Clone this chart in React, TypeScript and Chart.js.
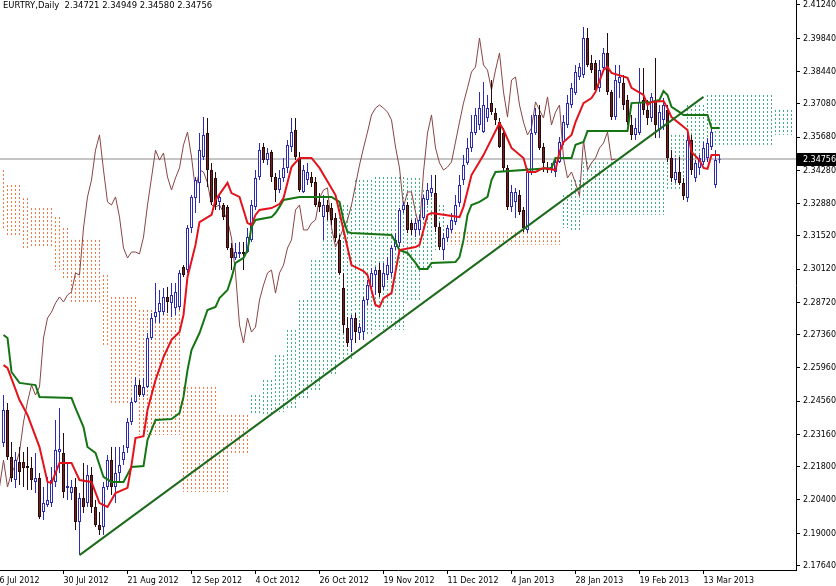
import React, { useEffect, useRef } from "react";
import { Chart, registerables } from "chart.js";

Chart.register(...registerables);

// ---------- data ----------
const title = "EURTRY,Daily  2.34721 2.34949 2.34580 2.34756";
const lastPrice = 2.34756;

const opens = [
  2.2280, 2.2419, 2.2221, 2.2124, 2.2200, 2.2200, 2.2183, 2.2175, 2.2116, 2.2133,
  2.1989, 2.2019, 2.2027, 2.2116, 2.2242, 2.2238, 2.2091, 2.2069, 2.2095, 2.1947,
  2.2048, 2.2027, 2.2145, 2.2011, 2.1935, 2.1926, 2.2095, 2.2208, 2.2095, 2.2154,
  2.2208, 2.2259, 2.2368, 2.2453, 2.2524, 2.2482, 2.2516, 2.2722, 2.2810, 2.2831,
  2.2831, 2.2895, 2.2869, 2.2848, 2.2853, 2.3021, 2.3008, 2.3185, 2.3311, 2.3375,
  2.3484, 2.3585, 2.3429, 2.3396, 2.3295, 2.3282, 2.3274, 2.3101, 2.3059, 2.3076,
  2.3084, 2.3084, 2.3135, 2.3274, 2.3400, 2.3526, 2.3471, 2.3505, 2.3400, 2.3345,
  2.3396, 2.3438, 2.3526, 2.3598, 2.3480, 2.3337, 2.3387, 2.3400, 2.3379, 2.3295,
  2.3231, 2.3282, 2.3269, 2.3227, 2.3135, 2.2933, 2.2764, 2.2714, 2.2806, 2.2743,
  2.2747, 2.2882, 2.2937, 2.2987, 2.3008, 2.2937, 2.2987, 2.2996, 2.3105, 2.3122,
  2.3261, 2.3282, 2.3206, 2.3177, 2.3177, 2.3227, 2.3303, 2.3332, 2.3332, 2.3189,
  2.3092, 2.3143, 2.3177, 2.3210, 2.3290, 2.3387, 2.3459, 2.3522, 2.3585, 2.3619,
  2.3589, 2.3648, 2.3711, 2.3669, 2.3631, 2.3585, 2.3438, 2.3274, 2.3295, 2.3324,
  2.3261, 2.3177, 2.3421, 2.3585, 2.3661, 2.3526, 2.3438, 2.3429, 2.3421, 2.3463,
  2.3547, 2.3619, 2.3703, 2.3753, 2.3821, 2.3829, 2.3985, 2.3880, 2.3880, 2.3775,
  2.3859, 2.3922, 2.3758, 2.3652, 2.3796, 2.3796, 2.3724, 2.3619, 2.3577, 2.3585,
  2.3724, 2.3682, 2.3648, 2.3724, 2.3598, 2.3640, 2.3682, 2.3480, 2.3387, 2.3421,
  2.3375, 2.3311, 2.3556, 2.3396, 2.3438, 2.3463, 2.3480, 2.3526, 2.3366, 2.34721,
];
const highs = [
  2.2482, 2.2448, 2.2284, 2.2242, 2.2263, 2.2242, 2.2263, 2.2221, 2.2238, 2.2154,
  2.2095, 2.2137, 2.2179, 2.2377, 2.2427, 2.2322, 2.2196, 2.2124, 2.2133, 2.2069,
  2.2196, 2.2187, 2.2179, 2.2040, 2.1989, 2.2116, 2.2229, 2.2263, 2.2263, 2.2263,
  2.2272, 2.2385, 2.2469, 2.2558, 2.2545, 2.2554, 2.2743, 2.2827, 2.2954, 2.2924,
  2.2933, 2.2937, 2.2954, 2.2954, 2.3008, 2.3029, 2.3198, 2.3324, 2.3400, 2.3585,
  2.3652, 2.3648, 2.3459, 2.3421, 2.3324, 2.3290, 2.3282, 2.3122, 2.3122, 2.3126,
  2.3126, 2.3185, 2.3303, 2.3429, 2.3543, 2.3543, 2.3522, 2.3513, 2.3417, 2.3429,
  2.3480, 2.3556, 2.3648, 2.3648, 2.3505, 2.3450, 2.3459, 2.3421, 2.3400, 2.3332,
  2.3324, 2.3303, 2.3290, 2.3248, 2.3156, 2.2996, 2.2810, 2.2819, 2.2827, 2.2785,
  2.2895, 2.2966, 2.3017, 2.3021, 2.3038, 2.3038, 2.3063, 2.3114, 2.3164, 2.3269,
  2.3295, 2.3295, 2.3219, 2.3227, 2.3240, 2.3324, 2.3375, 2.3408, 2.3408, 2.3206,
  2.3164, 2.3198, 2.3248, 2.3324, 2.3408, 2.3492, 2.3564, 2.3661, 2.3690, 2.3758,
  2.3800, 2.3745, 2.3808, 2.3690, 2.3648, 2.3606, 2.3450, 2.3366, 2.3354, 2.3345,
  2.3274, 2.3438, 2.3661, 2.3690, 2.3703, 2.3543, 2.3463, 2.3459, 2.3480, 2.3568,
  2.3661, 2.3745, 2.3796, 2.3871, 2.3880, 2.4031, 2.4027, 2.3913, 2.3892, 2.3892,
  2.3943, 2.4006, 2.3766, 2.3871, 2.3871, 2.3829, 2.3745, 2.3661, 2.3648, 2.3859,
  2.3859, 2.3724, 2.3753, 2.3901, 2.3703, 2.3732, 2.3703, 2.3513, 2.3480, 2.3484,
  2.3396, 2.3589, 2.3577, 2.3471, 2.3492, 2.3547, 2.3564, 2.3606, 2.3513, 2.34949,
];
const lows = [
  2.2263, 2.2208, 2.2116, 2.2091, 2.2103, 2.2095, 2.2082, 2.2082, 2.2069, 2.1960,
  2.1956, 2.2011, 2.2011, 2.2095, 2.2154, 2.2048, 2.2040, 2.2040, 2.1914, 2.1808,
  2.1985, 2.2011, 2.1985, 2.1926, 2.1893, 2.1893, 2.2082, 2.2061, 2.2027, 2.2116,
  2.2187, 2.2238, 2.2356, 2.2448, 2.2474, 2.2474, 2.2512, 2.2714, 2.2785, 2.2785,
  2.2819, 2.2827, 2.2810, 2.2819, 2.2840, 2.2979, 2.2996, 2.3164, 2.3248, 2.3290,
  2.3471, 2.3358, 2.3282, 2.3261, 2.3261, 2.3219, 2.3092, 2.3008, 2.3050, 2.3059,
  2.3008, 2.3080, 2.3126, 2.3261, 2.3387, 2.3459, 2.3450, 2.3379, 2.3295, 2.3332,
  2.3379, 2.3417, 2.3505, 2.3471, 2.3337, 2.3332, 2.3366, 2.3358, 2.3274, 2.3252,
  2.3135, 2.3219, 2.3198, 2.3126, 2.2987, 2.2743, 2.2684, 2.2663, 2.2701, 2.2714,
  2.2714, 2.2861, 2.2916, 2.2903, 2.2895, 2.2924, 2.2966, 2.2979, 2.3092, 2.3105,
  2.3248, 2.3164, 2.3156, 2.3147, 2.3156, 2.3219, 2.3282, 2.3316, 2.3168, 2.3092,
  2.3050, 2.3126, 2.3164, 2.3198, 2.3274, 2.3366, 2.3450, 2.3505, 2.3577, 2.3598,
  2.3585, 2.3631, 2.3661, 2.3619, 2.3522, 2.3421, 2.3261, 2.3252, 2.3227, 2.3240,
  2.3168, 2.3164, 2.3408, 2.3577, 2.3513, 2.3421, 2.3417, 2.3417, 2.3400, 2.3459,
  2.3535, 2.3606, 2.3690, 2.3745, 2.3808, 2.3817, 2.3863, 2.3838, 2.3753, 2.3758,
  2.3842, 2.3745, 2.3640, 2.3640, 2.3732, 2.3682, 2.3619, 2.3556, 2.3556, 2.3577,
  2.3661, 2.3619, 2.3631, 2.3564, 2.3564, 2.3598, 2.3463, 2.3379, 2.3375, 2.3366,
  2.3303, 2.3295, 2.3408, 2.3379, 2.3408, 2.3450, 2.3463, 2.3513, 2.3354, 2.34580,
];
const closes = [
  2.2419, 2.2221, 2.2133, 2.2208, 2.2158, 2.2175, 2.2175, 2.2124, 2.2133, 2.1968,
  2.2027, 2.2040, 2.2124, 2.2250, 2.2255, 2.2074, 2.2099, 2.2095, 2.1947, 2.2048,
  2.2011, 2.2145, 2.2011, 2.1935, 2.1914, 2.2095, 2.2208, 2.2095, 2.2154, 2.2187,
  2.2242, 2.2368, 2.2453, 2.2524, 2.2482, 2.2516, 2.2722, 2.2806, 2.2831, 2.2869,
  2.2895, 2.2874, 2.2903, 2.2916, 2.2996, 2.2987, 2.3185, 2.3316, 2.3387, 2.3513,
  2.3577, 2.3429, 2.3295, 2.3282, 2.3316, 2.3231, 2.3101, 2.3059, 2.3084, 2.3084,
  2.3076, 2.3147, 2.3282, 2.3396, 2.3513, 2.3471, 2.3501, 2.3400, 2.3345, 2.3396,
  2.3438, 2.3535, 2.3589, 2.3484, 2.3345, 2.3429, 2.3421, 2.3375, 2.3282, 2.3274,
  2.3282, 2.3252, 2.3219, 2.3143, 2.2996, 2.2777, 2.2701, 2.2806, 2.2747, 2.2768,
  2.2882, 2.2945, 2.2996, 2.3008, 2.2911, 2.2996, 2.3029, 2.3101, 2.3135, 2.3261,
  2.3282, 2.3177, 2.3177, 2.3206, 2.3219, 2.3311, 2.3345, 2.3354, 2.3189, 2.3105,
  2.3143, 2.3185, 2.3219, 2.3282, 2.3366, 2.3450, 2.3522, 2.3589, 2.3661, 2.3690,
  2.3703, 2.3690, 2.3673, 2.3640, 2.3526, 2.3438, 2.3274, 2.3337, 2.3337, 2.3252,
  2.3185, 2.3421, 2.3585, 2.3661, 2.3522, 2.3459, 2.3429, 2.3442, 2.3463, 2.3547,
  2.3631, 2.3711, 2.3775, 2.3842, 2.3863, 2.3985, 2.3871, 2.3850, 2.3766, 2.3850,
  2.3922, 2.3758, 2.3652, 2.3808, 2.3821, 2.3703, 2.3631, 2.3577, 2.3606, 2.3716,
  2.3682, 2.3648, 2.3737, 2.3619, 2.3673, 2.3703, 2.3480, 2.3396, 2.3421, 2.3375,
  2.3320, 2.3556, 2.3429, 2.3459, 2.3480, 2.3522, 2.3543, 2.3589, 2.3471, 2.34756,
];

// Tenkan-sen (bar index, price) vertices
const tenkanIdx = [
  0, 1, 4, 6, 9, 11, 12, 14, 17, 19, 22, 24, 26, 27, 28, 31, 32, 33, 35, 36,
  38, 40, 42, 44, 45, 46, 48, 49, 52, 53, 56, 57, 59, 61, 62, 63, 64, 67, 69, 70,
  72, 74, 77, 79, 83, 85, 87, 90, 91, 93, 94, 95, 97, 99, 103, 104, 106, 107, 114, 115,
  117, 120, 124, 125, 127, 130, 131, 133, 135, 138, 139, 140, 142, 143, 145, 147, 148, 150, 151, 152,
  156, 157, 160, 161, 162, 165, 166, 167, 171, 172, 174, 175, 176, 177, 179,
];
const tenkanVal = [
  2.2608, 2.2596, 2.2461, 2.2398, 2.2263, 2.2116, 2.2112, 2.2196, 2.2196, 2.2124,
  2.2116, 2.2027, 2.2011, 2.2040, 2.2069, 2.2091, 2.2187, 2.2301, 2.2309, 2.2419,
  2.2545, 2.2642, 2.2714, 2.2747, 2.2819, 2.2979, 2.3114, 2.3210, 2.3240, 2.3303,
  2.3375, 2.3332, 2.3316, 2.3206, 2.3198, 2.3240, 2.3261, 2.3269, 2.3286, 2.3311,
  2.3442, 2.3480, 2.3480, 2.3438, 2.3324, 2.3177, 2.3029, 2.3004, 2.2987, 2.2861,
  2.2853, 2.2890, 2.2911, 2.3092, 2.3105, 2.3114, 2.3240, 2.3248, 2.3231, 2.3274,
  2.3408, 2.3492, 2.3627, 2.3598, 2.3522, 2.3480, 2.3421, 2.3421, 2.3438, 2.3429,
  2.3505, 2.3547, 2.3577, 2.3631, 2.3711, 2.3732, 2.3758, 2.3850, 2.3863, 2.3838,
  2.3817, 2.3775, 2.3745, 2.3703, 2.3716, 2.3720, 2.3690, 2.3652, 2.3598, 2.3505,
  2.3471, 2.3438, 2.3434, 2.3492, 2.3492,
];

// Kijun-sen (bar index, price) vertices
const kijunIdx = [
  0, 1, 2, 4, 8, 9, 17, 18, 20, 21, 23, 25, 27, 30, 32, 35, 36, 38, 42, 44,
  45, 46, 47, 49, 51, 53, 54, 56, 57, 58, 60, 61, 62, 63, 67, 68, 69, 70, 74, 82,
  84, 85, 86, 87, 97, 98, 99, 101, 103, 104, 106, 107, 113, 114, 115, 116, 117, 119, 121, 122,
  123, 137, 138, 142, 143, 145, 146, 156, 157, 162, 164, 165, 166, 167, 169, 170, 176, 177, 179,
];
const kijunVal = [
  2.2735, 2.2722, 2.2579, 2.2533, 2.2524, 2.2474, 2.2469, 2.2427, 2.2347, 2.2263,
  2.2238, 2.2137, 2.2116, 2.2116, 2.2179, 2.2183, 2.2293, 2.2377, 2.2381, 2.2406,
  2.2474, 2.2587, 2.2671, 2.2743, 2.2840, 2.2853, 2.2890, 2.2924, 2.2975, 2.3038,
  2.3059, 2.3092, 2.3189, 2.3219, 2.3231, 2.3248, 2.3274, 2.3303, 2.3316, 2.3316,
  2.3295, 2.3219, 2.3168, 2.3164, 2.3156, 2.3126, 2.3092, 2.3080, 2.3038, 2.3013,
  2.3013, 2.3038, 2.3042, 2.3063, 2.3135, 2.3240, 2.3282, 2.3295, 2.3316, 2.3387,
  2.3421, 2.3438, 2.3480, 2.3480, 2.3535, 2.3547, 2.3593, 2.3593, 2.3711, 2.3716,
  2.3724, 2.3762, 2.3745, 2.3695, 2.3673, 2.3661, 2.3661, 2.3606, 2.3606,
];

// Kumo (Senkou span A / B), as runs of bars
const cloudFrom = [0, 1, 5, 7, 13, 15, 17, 25, 27, 34, 45, 54, 57, 62, 65, 68, 71, 74, 77, 80, 84, 88, 93, 101, 105, 108, 111, 140, 142, 145, 166, 171, 176, 193];
const cloudTo = [0, 4, 6, 12, 14, 16, 24, 26, 33, 44, 53, 56, 61, 64, 67, 70, 73, 76, 79, 83, 87, 92, 100, 104, 107, 110, 139, 141, 144, 165, 170, 175, 192, 197];
const spanA = [
  2.3177, 2.3147, 2.3101, 2.3101, 2.3008, 2.2966, 2.2869, 2.2693, 2.2440, 2.2314,
  2.2074, 2.2074, 2.2238, 2.2482, 2.2545, 2.2650, 2.2756, 2.2882, 2.3050, 2.3219,
  2.3282, 2.3387, 2.3400, 2.3396, 2.3345, 2.3282, 2.3114, 2.3324, 2.3387, 2.3463,
  2.3577, 2.3703, 2.3745, 2.3682,
];
const spanB = [
  2.3429, 2.3366, 2.3311, 2.3269, 2.3231, 2.3185, 2.3135, 2.2987, 2.2895, 2.2840,
  2.2516, 2.2398, 2.2398, 2.2398, 2.2398, 2.2410, 2.2427, 2.2461, 2.2503, 2.2566,
  2.2629, 2.2735, 2.2756, 2.2882, 2.3008, 2.3092, 2.3168, 2.3185, 2.3177, 2.3240,
  2.3345, 2.3471, 2.3535, 2.3577,
];

const trendIdx = [19, 175];
const trendVal = [2.1808, 2.3737];

const yTicks = [
  2.4124, 2.3984, 2.3844, 2.3708, 2.3568, 2.3428, 2.3288, 2.3152, 2.3012,
  2.2872, 2.2736, 2.2596, 2.2456, 2.2316, 2.218, 2.204, 2.19, 2.1764,
];
const xTickIdx = [-1, 15, 31, 47, 63, 79, 95, 111, 127, 143, 159, 175];
const xTickLabels = [
  "6 Jul 2012", "30 Jul 2012", "21 Aug 2012", "12 Sep 2012", "4 Oct 2012", "26 Oct 2012",
  "19 Nov 2012", "11 Dec 2012", "4 Jan 2013", "28 Jan 2013", "19 Feb 2013", "13 Mar 2013",
];

const xMin = -0.875;
const xMax = 198.125;
const yMin = 2.17453;
const yMax = 2.4145;

// ---------- styles ----------
const BULL = "#2B2BB5";
const BEAR_FILL = "#6E2222";
const BEAR_LINE = "#2A0A0A";
const TENKAN = "#E3121B";
const KIJUN = "#157515";
const TREND = "#1E6B1E";
const CHIKOU = "#8A4444";
const PRICE_LINE = "#8C8C8C";
const CLOUD_UP = "#3DAE84";
const CLOUD_DOWN = "#F2773F";

// pick a narrow installed family and sizes that fit the MT4-like label widths
function pickFonts() {
  const c = document.createElement("canvas").getContext("2d")!;
  const probe = "2.41240 30 Jul 2012";
  c.font = "11px monospace";
  const a = c.measureText(probe).width;
  let family = "'Liberation Sans', Arial, sans-serif";
  for (const f of ["'Liberation Sans Narrow'", "'DejaVu Sans Condensed'"]) {
    c.font = `11px ${f}, monospace`;
    if (Math.abs(c.measureText(probe).width - a) > 0.5) {
      family = f;
      break;
    }
  }
  c.font = `10px ${family}`;
  const wAxis = c.measureText("2.41240").width;
  const wTitle = c.measureText(title).width;
  const axisSize = Math.min(11, Math.round((33 / wAxis) * 100) / 10);
  const titleSize = Math.min(11, Math.round((209 / wTitle) * 100) / 10);
  return { family, axisSize, titleSize };
}

export default function App() {
  const ref = useRef<HTMLCanvasElement | null>(null);

  useEffect(() => {
    const canvas = ref.current!;
    const fonts = pickFonts();
    const axisFont = `${fonts.axisSize}px ${fonts.family}`;
    const titleFont = `${fonts.titleSize}px ${fonts.family}`;

    const isBull = (i: number) => closes[i] >= opens[i];
    const bodies = closes.map((c, i) => ({ x: i, y: [opens[i], c] }));
    const wicks = closes.map((c, i) => ({ x: i, y: [lows[i], highs[i]] }));

    // cloud columns: vertical dotted strokes between span A and span B, one per bar
    const cloudUp: any[] = [];
    const cloudDown: any[] = [];
    cloudFrom.forEach((f, s) => {
      const hi = Math.max(spanA[s], spanB[s]);
      const lo = Math.min(spanA[s], spanB[s]);
      const target = spanA[s] >= spanB[s] ? cloudUp : cloudDown;
      for (let i = f; i <= cloudTo[s]; i++) {
        target.push({ x: i, y: hi }, { x: i, y: lo }, { x: i, y: null });
      }
    });

    const chikou = closes.map((c, i) => ({ x: i - 26, y: c }));
    const tenkan = tenkanIdx.map((x, k) => ({ x, y: tenkanVal[k] }));
    const kijun = kijunIdx.map((x, k) => ({ x, y: kijunVal[k] }));
    const trend = trendIdx.map((x, k) => ({ x, y: trendVal[k] }));
    const priceLine = [
      { x: xMin, y: lastPrice },
      { x: xMax, y: lastPrice },
    ];

    const overlay = {
      id: "overlay",
      afterDraw(chart: any) {
        const { ctx, chartArea, scales } = chart;
        const y = Math.round(scales.y.getPixelForValue(lastPrice));
        ctx.save();
        ctx.fillStyle = "#000";
        ctx.fillRect(chartArea.right + 1, y - 6, 40, 13);
        ctx.fillStyle = "#fff";
        ctx.font = axisFont;
        ctx.textBaseline = "middle";
        ctx.textAlign = "left";
        ctx.fillText(lastPrice.toFixed(5), chartArea.right + 7, y + 0.5);
        ctx.fillStyle = "#000";
        ctx.font = titleFont;
        ctx.textBaseline = "top";
        ctx.fillText(title, chartArea.left + 3, chartArea.top + 1);
        ctx.restore();
      },
    };

    const lineBase = {
      type: "line" as const,
      pointRadius: 0,
      pointHoverRadius: 0,
      fill: false,
      tension: 0,
    };

    const chart = new Chart(canvas, {
      type: "bar",
      data: {
        datasets: [
          {
            ...lineBase,
            label: "cloud down",
            data: cloudDown,
            borderColor: CLOUD_DOWN,
            borderWidth: 1,
            borderDash: [2, 2],
            borderCapStyle: "butt",
            spanGaps: false,
            order: 100,
          } as any,
          {
            ...lineBase,
            label: "cloud up",
            data: cloudUp,
            borderColor: CLOUD_UP,
            borderWidth: 1,
            borderDash: [2, 2],
            borderCapStyle: "butt",
            spanGaps: false,
            order: 99,
          } as any,
          {
            ...lineBase,
            label: "price",
            data: priceLine,
            borderColor: PRICE_LINE,
            borderWidth: 1,
            order: 90,
          } as any,
          {
            ...lineBase,
            label: "chikou",
            data: chikou,
            borderColor: CHIKOU,
            borderWidth: 1,
            order: 80,
          } as any,
          {
            label: "wicks",
            data: wicks,
            backgroundColor: (c: any) => (isBull(c.dataIndex) ? BULL : BEAR_LINE),
            barThickness: 1,
            grouped: false,
            borderWidth: 0,
            inflateAmount: 0,
            order: 60,
          } as any,
          {
            label: "bodies",
            data: bodies,
            backgroundColor: (c: any) => (isBull(c.dataIndex) ? "#ffffff" : BEAR_FILL),
            borderColor: (c: any) => (isBull(c.dataIndex) ? BULL : BEAR_LINE),
            borderWidth: 1,
            borderSkipped: false,
            barThickness: 3,
            minBarLength: 1,
            grouped: false,
            inflateAmount: 0,
            order: 50,
          } as any,
          {
            ...lineBase,
            label: "kijun",
            data: kijun,
            borderColor: KIJUN,
            borderWidth: 2,
            order: 30,
          } as any,
          {
            ...lineBase,
            label: "tenkan",
            data: tenkan,
            borderColor: TENKAN,
            borderWidth: 2,
            order: 20,
          } as any,
          {
            ...lineBase,
            label: "trend",
            data: trend,
            borderColor: TREND,
            borderWidth: 2,
            order: 10,
          } as any,
        ],
      },
      options: {
        animation: false,
        responsive: false,
        events: [],
        layout: { padding: 0 },
        plugins: {
          legend: { display: false },
          tooltip: { enabled: false },
          title: { display: false },
        },
        scales: {
          x: {
            type: "linear",
            min: xMin,
            max: xMax,
            offset: false,
            grid: {
              display: true,
              drawOnChartArea: false,
              drawTicks: true,
              tickLength: 4,
              color: "#000",
              offset: false,
            },
            border: { display: true, color: "#000", width: 1 },
            ticks: {
              autoSkip: false,
              maxRotation: 0,
              minRotation: 0,
              align: "start",
              padding: 1,
              color: "#000",
              font: { family: fonts.family, size: fonts.axisSize },
              callback: (_v: any, i: number) => xTickLabels[i],
            },
            afterBuildTicks: (s: any) => {
              s.ticks = xTickIdx.map((v) => ({ value: v }));
            },
            afterFit: (s: any) => {
              s.height = 16;
              s.paddingLeft = 0;
              s.paddingRight = 0;
            },
          } as any,
          y: {
            type: "linear",
            position: "right",
            min: yMin,
            max: yMax,
            grid: {
              display: true,
              drawOnChartArea: false,
              drawTicks: true,
              tickLength: 4,
              color: "#000",
            },
            border: { display: true, color: "#000", width: 1 },
            ticks: {
              autoSkip: false,
              padding: 3,
              color: "#000",
              font: { family: fonts.family, size: fonts.axisSize },
              callback: (v: any) => Number(v).toFixed(5),
            },
            afterBuildTicks: (s: any) => {
              s.ticks = yTicks.map((v) => ({ value: v }));
            },
            afterFit: (s: any) => {
              s.width = 40;
              s.paddingTop = 0;
              s.paddingBottom = 0;
            },
          } as any,
        },
      },
      plugins: [overlay],
    });

    return () => chart.destroy();
  }, []);

  return (
    <div
      style={{
        position: "fixed",
        left: 0,
        top: 0,
        width: 836,
        height: 586,
        background: "#fff",
      }}
    >
      <canvas ref={ref} width={836} height={586} style={{ width: 836, height: 586 }} />
    </div>
  );
}
